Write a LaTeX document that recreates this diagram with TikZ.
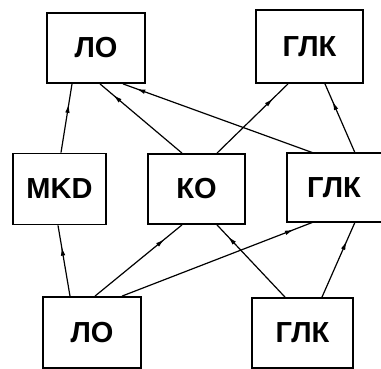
\documentclass[tikz,border=0pt]{standalone}
\usepackage{fontspec}
\setmainfont{Liberation Sans}
\usetikzlibrary{arrows.meta,decorations.markings}
\begin{document}
\begin{tikzpicture}[x=1pt,y=-1pt,
  lbl/.style={font=\fontsize{29}{29}\selectfont\bfseries},
  box/.style={draw,line width=1.8pt,minimum width=#1,inner sep=0pt,lbl},
  conn/.style={line width=1.2pt,decoration={markings,mark=at position #1 with {\arrow{Latex[length=9pt,width=4.5pt]}}},postaction={decorate}}]
\useasboundingbox (0,0) rectangle (381,369);
\clip (0,0) rectangle (381,369);
\node[box=98pt,minimum height=70pt] (A) at (96,48) {ЛО};
\node[box=107pt,minimum height=73pt] (B) at (309.5,46.5) {ГЛК};
\node[box=93pt,minimum height=71pt] (C) at (59.5,189) {MKD};
\node[box=97pt,minimum height=70pt] (D) at (196.5,189) {КО};
\node[lbl,minimum width=94pt,minimum height=69pt,inner sep=0pt] (E) at (334,187.5) {ГЛК};
\draw[line width=1.8pt] ([xshift=10pt]E.north east) -- (E.north west) -- (E.south west) -- ([xshift=10pt]E.south east);
\node[box=98pt,minimum height=71pt] (F) at (92,332.5) {ЛО};
\node[box=101pt,minimum height=70pt] (G) at (302.5,333) {ГЛК};
% upper connectors
\draw[conn=0.71] ([xshift=1.5pt]C.north) -- ([xshift=-24pt]A.south);
\draw[conn=0.84] ([xshift=-14.5pt]D.north) -- ([xshift=4pt]A.south);
\draw[conn=0.93] ([xshift=-21pt]E.north) -- ([xshift=27pt]A.south);
\draw[conn=0.79] ([xshift=20.5pt]D.north) -- ([xshift=-21.5pt]B.south);
\draw[conn=0.75] ([xshift=21pt]E.north) -- ([xshift=15.5pt]B.south);
% lower connectors
\draw[conn=0.70] ([xshift=-22pt]F.north) -- ([xshift=-1.5pt]C.south);
\draw[conn=0.80] ([xshift=3pt]F.north) -- ([xshift=-14.5pt]D.south);
\draw[conn=0.90] ([xshift=30pt]F.north) -- ([xshift=-21pt]E.south);
\draw[conn=0.84] ([xshift=-17.5pt]G.north) -- ([xshift=20.5pt]D.south);
\draw[conn=0.75] ([xshift=19.5pt]G.north) -- ([xshift=21pt]E.south);
\end{tikzpicture}
\end{document}
